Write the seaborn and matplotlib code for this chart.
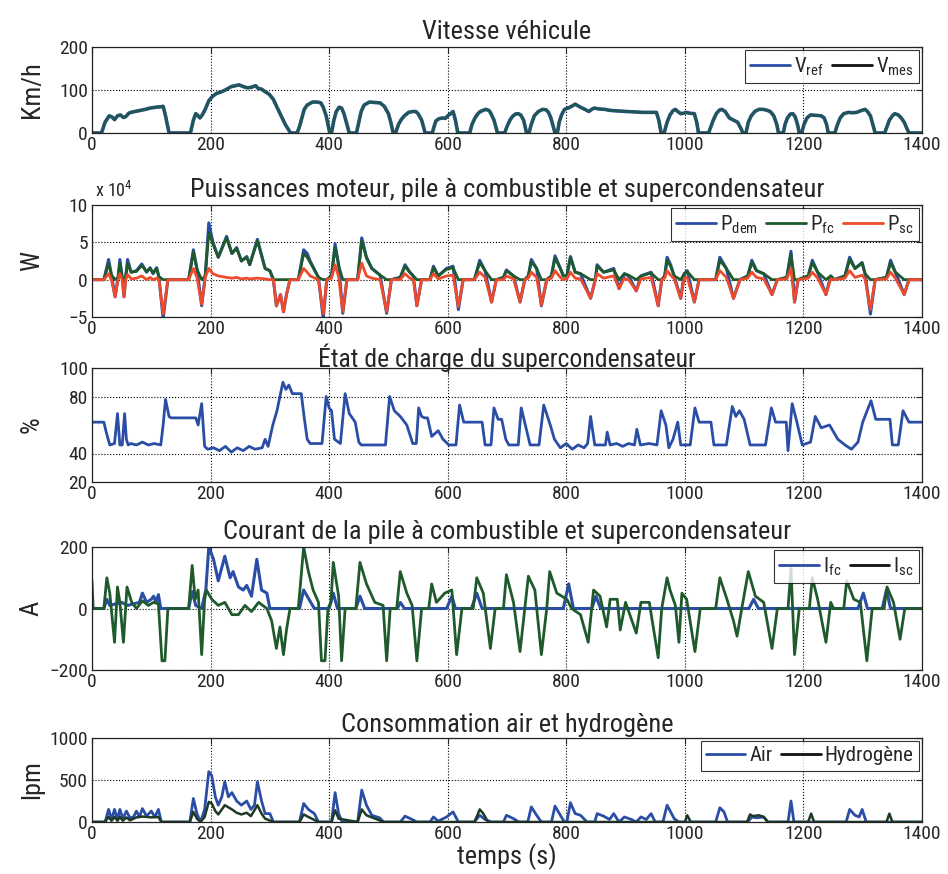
import matplotlib
matplotlib.use("Agg")
import matplotlib.pyplot as plt
from matplotlib import font_manager
from matplotlib.lines import Line2D
import seaborn as sns

# ---- vitesse (km/h) ----
t_speed = ([0, 16, 22, 29, 34, 38, 43, 48, 53, 57, 62, 66]
           + [72, 80, 90, 98, 108, 116, 120, 124, 130]
           + [162, 166, 171, 175, 179, 182, 186, 191]
           + [197, 203, 210, 217, 225, 235, 242, 248, 255, 262]
           + [268, 276, 280, 286, 292, 299, 306, 312, 319, 326, 335]
           + [346, 350, 354, 358, 363, 372, 380, 386, 390, 395, 401]
           + [404, 408, 412, 417, 421, 425, 430, 434]
           + [446, 450, 454, 459, 468, 478, 486, 493, 500, 504, 508]
           + [512, 517, 522, 527, 534, 541, 546, 550, 556, 562]
           + [574, 577, 580, 585, 591, 596, 600, 605, 609, 613, 617]
           + [637, 641, 646, 651, 655, 664, 670, 673, 678, 684]
           + [696, 700, 705, 709, 714, 719, 723, 728, 733]
           + [737, 741, 746, 753, 760, 766, 770, 774, 781]
           + [785, 788, 792, 797, 803, 809, 815, 820, 824, 830]
           + [838, 843, 847, 855, 865, 872, 879, 890, 902, 915, 929, 940, 952, 956, 960]
           + [965, 970, 975, 980, 984, 988, 993, 998, 1002, 1008, 1016, 1020, 1023]
           + [1040, 1044, 1048, 1053, 1058, 1062, 1068, 1075, 1082, 1089, 1094, 1098]
           + [1103, 1107, 1112, 1118, 1125, 1132, 1138, 1144, 1150, 1155, 1158]
           + [1166, 1169, 1173, 1178, 1182, 1186, 1190, 1193]
           + [1197, 1201, 1206, 1212, 1220, 1230, 1235, 1239, 1242]
           + [1253, 1257, 1262, 1268, 1276, 1283, 1290, 1297, 1304, 1308, 1313, 1317, 1321]
           + [1337, 1341, 1345, 1350, 1354, 1360, 1365, 1370, 1374, 1378, 1400])
v_ref = ([0, 0, 25, 40, 37, 31, 40, 42, 36, 38, 46, 48]
         + [50, 52, 55, 58, 60, 61, 62, 40, 0]
         + [0, 0, 30, 45, 40, 35, 42, 55]
         + [75, 85, 92, 95, 100, 108, 110, 112, 108, 105]
         + [106, 110, 104, 102, 96, 90, 78, 60, 40, 20, 0]
         + [0, 15, 35, 55, 65, 72, 72, 70, 60, 40, 0]
         + [0, 30, 50, 60, 58, 45, 20, 0]
         + [0, 25, 50, 65, 72, 71, 70, 62, 45, 25, 0]
         + [0, 20, 32, 40, 48, 50, 50, 45, 30, 0]
         + [0, 15, 28, 33, 35, 34, 40, 45, 50, 30, 0]
         + [0, 20, 35, 45, 50, 55, 52, 45, 30, 0]
         + [0, 15, 30, 38, 44, 45, 42, 30, 0]
         + [0, 20, 40, 50, 55, 54, 48, 35, 0]
         + [0, 25, 42, 55, 58, 62, 67, 63, 60, 56]
         + [50, 55, 58, 56, 55, 53, 52, 51, 50, 49, 48, 48, 48, 30, 0]
         + [0, 25, 42, 52, 55, 50, 45, 46, 48, 46, 45, 25, 0]
         + [0, 15, 30, 45, 53, 55, 50, 35, 30, 25, 12, 0]
         + [0, 25, 40, 50, 55, 55, 53, 50, 40, 20, 0]
         + [0, 20, 35, 44, 45, 38, 20, 0]
         + [0, 20, 35, 42, 41, 40, 35, 20, 0]
         + [0, 18, 35, 45, 48, 47, 48, 52, 55, 50, 40, 20, 0]
         + [0, 15, 30, 40, 45, 42, 35, 25, 12, 0, 0])
v_mes = list(v_ref)  # the measured speed follows the reference

# ---- puissances (x 10^4 W) ----
t_power = ([0, 20, 28, 33, 39, 44, 47, 51, 54, 57, 60, 66]
           + [75, 84, 92, 98, 103, 109, 113, 120, 128, 163]
           + [171, 177, 185, 191, 197, 204, 213, 227, 236, 244, 252]
           + [261, 266, 279, 292, 300, 306, 311, 318, 323, 328, 334, 348]
           + [357, 363, 368, 376, 382, 390, 396, 404, 410, 416, 423, 430, 448]
           + [455, 463, 472, 486, 497, 505, 520, 528, 536, 542, 548, 556, 570]
           + [576, 584, 598, 609, 618, 626, 645, 654, 663, 674, 682, 694]
           + [699, 711, 722, 730, 736, 741, 750, 758, 767, 775, 781, 790, 795]
           + [801, 807, 815, 824, 841, 849, 852, 863, 880, 889, 898, 905]
           + [918, 926, 943, 955, 961, 966, 970, 976, 982, 993, 999, 1004, 1016, 1024]
           + [1052, 1059, 1070, 1082, 1093, 1106, 1113, 1121, 1133, 1147, 1156, 1172, 1179, 1185, 1191]
           + [1208, 1215, 1224, 1238, 1246, 1252, 1270, 1278, 1287, 1299, 1304, 1313, 1321]
           + [1340, 1347, 1355, 1370, 1378, 1400])
p_dem = ([0, 0, 2.7, 0.5, -2.3, 0.3, 2.7, 0.3, -2.3, 0.5, 2.7, 1.0]
         + [1.2, 2.1, 1.0, 1.6, 0.8, 1.6, 0.3, -5.2, 0, 0]
         + [4.0, 1.5, -3.5, 0.5, 7.6, 5.0, 3.0, 5.8, 3.5, 4.3, 2.5]
         + [3.1, 2.0, 5.4, 1.5, 1.2, 0, -3.5, -2.0, -4.3, -2.0, 0, 0]
         + [4.0, 3.5, 2.5, 1.2, 0.3, -5.2, 0, 0.5, 4.8, 2.0, -4.5, 0, 0]
         + [5.6, 3.0, 1.5, 0.6, -4.5, 0, 0.3, 2.0, 1.0, 0.5, -3.5, 0, 0]
         + [1.8, 0.5, 1.5, 1.8, -4.0, 0, 0, 2.6, 1.2, -3.0, 0, 0.3]
         + [1.3, 0.5, -3.0, 0, 0.5, 2.7, 1.5, -3.5, 0, 0.5, 3.2, 1.5, 0.5]
         + [0.5, 3.1, 1.0, 0.8, -2.5, 0, 2.0, 1.0, 1.5, -1.2, 0.8, 0.5]
         + [-1.5, 0.5, 1.0, -3.5, 0, 0.5, 3.0, 2.0, 0.5, -2.5, 0.8, 1.2, -3.0, 0]
         + [0, 3.0, 1.5, -2.5, 0, 0.5, 2.6, 1.2, 0.8, -2.0, 0, 0.3, 3.8, -3.0, 0]
         + [0.5, 2.6, 1.0, -2.0, 0.5, 0, 0.5, 3.0, 1.5, 2.3, 0.8, -4.6, 0]
         + [0.3, 2.6, 1.0, -2.0, 0, 0])
p_fc = ([0, 0, 2.2, 0.6, 0, 0.3, 2.2, 0.3, 0, 0.4, 2.2, 1.0]
        + [1.1, 1.9, 1.1, 1.5, 0.9, 1.5, 0.4, 0, 0, 0]
        + [3.7, 1.4, 0, 0.5, 6.3, 4.8, 3.0, 5.6, 3.5, 4.2, 2.5]
        + [3.0, 2.0, 5.2, 1.5, 1.2, 0, 0, 0, 0, 0, 0, 0]
        + [3.5, 3.0, 2.3, 1.2, 0.3, 0, 0, 0.5, 4.3, 1.9, 0, 0, 0]
        + [5.2, 2.9, 1.5, 0.6, 0, 0, 0.3, 1.8, 1.0, 0.5, 0, 0, 0]
        + [1.6, 0.5, 1.4, 1.6, 0, 0, 0, 2.3, 1.2, 0, 0, 0.3]
        + [1.2, 0.5, 0, 0, 0.5, 2.4, 1.5, 0, 0, 0.5, 2.9, 1.5, 0.5]
        + [0.5, 3.0, 1.0, 0.8, 0, 0, 1.8, 1.0, 1.3, 0, 0.8, 0.6]
        + [0, 0.5, 0.9, 0, 0, 0.5, 2.6, 1.8, 0.5, 0, 0.8, 1.1, 0, 0]
        + [0, 2.6, 1.5, 0, 0, 0.5, 2.3, 1.2, 0.8, 0, 0, 0.3, 3.4, 0, 0]
        + [0.5, 2.3, 1.0, 0, 0.5, 0, 0.5, 2.7, 1.5, 2.2, 0.8, 0, 0]
        + [0.3, 2.3, 1.0, 0, 0, 0])
p_sc = ([0, 0, 0.8, -0.1, -2.3, 0, 0.8, 0, -2.3, 0, 0.7, 0.1]
        + [0.2, 0.5, 0, 0.3, 0, 0.2, 0, -4.6, 0, 0]
        + [1.5, 0.3, -3.3, 0.3, 1.5, 0.8, 0.5, 0.3, 0.2, 0.3, 0.1]
        + [0.2, 0.1, 0.2, 0.1, 0, 0, -3.5, -2.0, -4.3, -2.0, 0, 0]
        + [1.5, 1.0, 0.5, 0.2, 0, -4.6, 0, 0.2, 2.0, 0.4, -4.3, 0, 0]
        + [2.2, 0.5, 0.2, 0, -4.3, 0, 0, 0.8, 0.2, 0, -3.5, 0, 0]
        + [0.8, 0.1, 0.5, 0.6, -3.6, 0, 0, 1.0, 0.3, -3.0, 0, 0]
        + [0.5, 0.1, -3.0, 0, 0.2, 1.0, 0.3, -3.4, 0, 0.2, 1.2, 0.3, 0]
        + [0.1, 1.0, 0.2, 0.1, -2.5, 0, 0.8, 0.2, 0.5, -1.2, 0.2, 0]
        + [-1.5, 0.1, 0.3, -3.5, 0, 0.2, 1.2, 0.6, 0.1, -2.5, 0.2, 0.3, -3.0, 0]
        + [0, 1.2, 0.3, -2.5, 0, 0.2, 1.0, 0.3, 0.1, -2.0, 0, 0.1, 1.5, -3.0, 0]
        + [0.2, 1.0, 0.2, -2.0, 0.1, 0, 0.2, 1.2, 0.3, 0.6, 0.1, -4.0, 0]
        + [0.1, 1.0, 0.2, -2.0, 0, 0])

# ---- etat de charge (%) ----
t_soc = ([0, 20, 24, 30, 38, 43, 47, 51, 55, 58, 61, 65]
         + [75, 85, 95, 105, 116, 120, 124, 130, 133, 175]
         + [179, 185, 190, 195, 205, 215, 225, 235, 245, 255, 265, 275, 287]
         + [292, 297, 305, 312, 318, 322, 327, 332, 338, 353, 358, 363, 368]
         + [388, 395, 400, 404, 409, 419, 427, 434, 444, 450, 454, 495]
         + [502, 510, 520, 531, 541, 547, 551, 556, 561, 566, 573, 584, 592, 602, 614]
         + [620, 627, 658, 663, 673, 678, 685, 691, 698, 703, 719]
         + [724, 732, 739, 754, 762, 773, 780, 790, 800, 810, 820, 830, 836]
         + [841, 848, 866, 869, 874, 885, 895, 905, 915, 919, 925, 940, 953]
         + [960, 968, 973, 980, 988, 993, 1009, 1017, 1024, 1044, 1049, 1070]
         + [1080, 1086, 1092, 1100, 1110, 1136, 1146, 1153, 1171, 1174, 1181, 1189, 1198]
         + [1212, 1220, 1230, 1244, 1258, 1270, 1281, 1292, 1300, 1314, 1322, 1346, 1350]
         + [1360, 1368, 1378, 1400])
soc = ([62, 62, 55, 46, 47, 68, 46, 46, 68, 50, 46, 47]
       + [46, 48, 46, 47, 46, 60, 78, 66, 65, 65]
       + [60, 75, 45, 43, 44, 42, 45, 41, 44, 42, 45, 43, 44]
       + [50, 45, 60, 70, 82, 90, 85, 88, 82, 82, 65, 50, 47]
       + [47, 80, 72, 70, 50, 47, 82, 68, 62, 48, 46, 46]
       + [80, 70, 66, 60, 47, 47, 72, 66, 65, 65, 52, 56, 50, 46, 46]
       + [74, 62, 62, 46, 46, 72, 64, 64, 50, 46, 46]
       + [72, 58, 46, 46, 74, 60, 50, 44, 47, 43, 46, 44, 47]
       + [66, 46, 46, 55, 46, 47, 45, 47, 46, 57, 46, 47, 46]
       + [70, 60, 44, 50, 62, 46, 46, 72, 62, 62, 46, 46]
       + [73, 66, 70, 64, 46, 46, 72, 62, 62, 42, 75, 62, 46]
       + [48, 66, 58, 60, 50, 46, 43, 48, 62, 77, 64, 64, 46]
       + [46, 70, 62, 62])

# ---- courants (A) ----
t_isc = ([0, 2, 5, 20, 25, 30, 38, 43, 47, 53, 59, 67]
         + [75, 85, 95, 104, 112, 118, 123, 128, 163]
         + [169, 174, 179, 185, 190, 193, 202, 213, 224, 236, 247, 258]
         + [269, 281, 295, 303, 311, 317, 323, 328, 334, 348]
         + [357, 365, 373, 382, 387, 393, 398, 403, 407, 416, 421, 427]
         + [445, 452, 463, 477, 491, 497, 503, 514, 520, 531, 540, 548, 556]
         + [568, 573, 581, 595, 607, 615, 624, 643, 649, 660, 672, 680]
         + [694, 699, 711, 722, 730, 736, 747, 758, 767, 772, 784, 801, 809]
         + [824, 837, 846, 857, 868, 874, 886, 891, 900, 918, 926, 940, 955, 961]
         + [970, 975, 984, 990, 995, 1003, 1017, 1026, 1052, 1059, 1071, 1082, 1088, 1096]
         + [1107, 1119, 1133, 1147, 1156, 1174, 1179, 1185, 1193, 1210, 1215, 1224, 1238, 1246, 1251]
         + [1268, 1273, 1285, 1296, 1307, 1316, 1336, 1341, 1352, 1363, 1371, 1400])
i_sc = ([90, 0, 0, 0, 100, 50, -110, 70, 20, -110, 70, 20]
        + [0, 25, 10, 20, 15, -170, -170, 0, 0]
        + [140, 30, 60, -150, 30, 60, 30, 10, 20, -20, -20, 10]
        + [-10, 20, 0, -40, -130, -60, -150, -70, 0, 0]
        + [200, 120, 60, 20, -170, -170, 0, 20, 150, 40, -170, 0]
        + [0, 150, 80, 20, 10, -170, 0, 0, 120, 50, 10, -170, 0]
        + [0, 80, 20, 50, 60, -150, 0, 0, 100, 50, -130, 0]
        + [0, 110, 20, -140, 0, 105, 60, -150, 0, 120, 50, 30, 0]
        + [-20, -110, 60, 40, -60, 30, 30, -70, 20, -80, 20, 20, -160, 0]
        + [100, 60, 10, -110, 50, 30, -140, 0, 0, 100, 30, -40, -90, 0]
        + [120, 40, 20, -130, 0, 0, 130, -150, 0, 0, 100, 30, -110, 20, 0]
        + [0, 90, 30, 20, -170, 0, 0, 70, 20, -100, 0, 0])
t_ifc = ([0, 20, 25, 30, 40, 50, 60, 70, 80, 85, 92, 100, 104, 108, 112, 116, 163]
         + [169, 175, 185, 192, 197, 205, 213, 224, 233, 238, 247, 255, 261, 269, 278, 286, 295, 300]
         + [350, 357, 366, 375, 400, 407, 414, 445, 452, 460, 515, 520, 527]
         + [598, 607, 613, 640, 649, 658, 795, 804, 812, 843, 850, 858,
            1108, 1116, 1124, 1292, 1301, 1308, 1333, 1340, 1347, 1400])
i_fc = ([0, 0, 30, 10, 15, 20, 10, 15, 20, 50, 20, 30, 40, 20, 45, 0, 0]
        + [55, 10, 0, 60, 200, 160, 90, 170, 100, 120, 70, 60, 75, 40, 160, 60, 50, 0]
        + [0, 60, 30, 0, 0, 50, 0, 0, 40, 0, 0, 20, 0]
        + [0, 40, 0, 0, 50, 0, 0, 80, 0, 0, 40, 0,
           0, 30, 0, 0, 50, 0, 0, 60, 0, 0])

# ---- consommation (lpm) ----
t_air = ([0, 22, 28, 33, 38, 43, 47, 52, 58, 64, 70, 75, 80, 85, 92, 100, 106, 112, 117]
         + [165, 171, 177, 183, 190, 197, 202, 208, 213, 219, 224, 230, 236, 244, 252, 261, 268, 274, 279, 286, 292, 300, 306]
         + [350, 357, 365, 375, 382, 404, 410, 416, 422, 448, 455, 463, 472, 485, 492]
         + [520, 528, 540, 548, 570, 576, 584, 598, 609, 618, 645, 654, 663, 674, 694, 699, 711, 720]
         + [735, 741, 750, 758, 775, 781, 790, 797, 801, 807, 815, 824, 835, 848, 852, 863, 873, 880, 889, 898, 910, 918, 926, 935, 943, 950]
         + [963, 970, 976, 982, 990, 1052, 1059, 1066, 1072, 1106, 1113, 1121, 1133, 1140, 1174, 1179, 1184, 1272, 1278, 1287, 1294, 1299, 1306, 1400])
air = ([0, 0, 150, 30, 150, 30, 150, 40, 130, 50, 60, 130, 60, 160, 70, 130, 60, 150, 0]
       + [0, 280, 100, 0, 150, 600, 550, 300, 200, 300, 480, 300, 350, 250, 200, 250, 150, 200, 480, 250, 100, 100, 0]
       + [0, 220, 150, 100, 0, 0, 350, 100, 0, 0, 380, 200, 80, 50, 0]
       + [0, 70, 30, 0, 0, 60, 10, 60, 120, 0, 0, 80, 30, 0, 0, 80, 40, 0]
       + [0, 180, 80, 0, 0, 190, 80, 0, 0, 230, 100, 80, 0, 0, 100, 70, 30, 100, 0, 60, 30, 0, 60, 30, 100, 0]
       + [0, 200, 120, 40, 0, 0, 170, 120, 0, 0, 60, 50, 60, 0, 0, 250, 0, 0, 150, 80, 60, 150, 0, 0])
t_h2 = ([0, 22, 28, 33, 38, 43, 47, 52, 58, 64, 75, 85, 100, 112, 117]
        + [165, 171, 177, 183, 190, 197, 202, 208, 213, 224, 236, 244, 252, 261, 268, 279, 286, 292, 306]
        + [350, 357, 365, 382, 404, 410, 416, 448, 455, 463, 492]
        + [645, 650, 654, 660, 668, 1000, 1004, 1010, 1105, 1110, 1115, 1125, 1133, 1140,
           1208, 1213, 1218, 1340, 1345, 1350, 1400])
h2 = ([0, 0, 60, 15, 60, 15, 60, 15, 55, 20, 55, 65, 55, 60, 0]
      + [0, 120, 40, 0, 60, 240, 220, 130, 90, 200, 150, 110, 90, 110, 70, 200, 100, 40, 0]
      + [0, 90, 60, 0, 0, 140, 40, 0, 150, 80, 0]
      + [0, 80, 150, 100, 0, 0, 80, 0, 0, 90, 70, 80, 60, 0,
         0, 100, 0, 0, 100, 0, 0])

BLUE = "#2a4ea6"
GREEN = "#1f5a2c"
RED = "#ee4a2c"
BLACK = "#111111"

# pick a narrow sans if one is installed, otherwise Liberation Sans
installed = {f.name for f in font_manager.fontManager.ttflist}
family = "Liberation Sans"
narrow = False
for cand in ["Liberation Sans Narrow", "Roboto Condensed", "Open Sans Condensed",
             "DejaVu Sans Condensed"]:
    if cand in installed:
        family, narrow = cand, True
        break

sns.set_style("white")
plt.rcParams["font.family"] = [family, "DejaVu Sans"]
plt.rcParams["mathtext.fontset"] = "custom"
plt.rcParams["mathtext.rm"] = family
plt.rcParams["mathtext.it"] = family

fs_title = 19 if narrow else 16.5
fs_tick = 14 if narrow else 12.5
fs_ylab = 19 if narrow else 17.5
fs_leg = 15 if narrow else 14

fig = plt.figure(figsize=(9.48, 8.74), dpi=100)

W, H = 948.0, 874.0
left, width = 92 / W, 830 / W
boxes = [(47, 133), (205, 317), (368, 482), (547, 670), (738, 822)]
axes = [fig.add_axes([left, 1 - b / H, width, (b - t) / H]) for t, b in boxes]


def style(ax, title, ylabel, yticks, ylim, pad=6, tsize=None):
    ax.set_xlim(0, 1400)
    ax.set_xticks(range(0, 1401, 200))
    ax.set_ylim(*ylim)
    ax.set_yticks(yticks)
    ax.tick_params(direction="in", labelsize=fs_tick, length=4, pad=3, top=True, right=True)
    ax.tick_params(axis="x", pad=2)
    ax.grid(True, color="black", linestyle=":", linewidth=0.8)
    ax.set_axisbelow(True)
    for s in ax.spines.values():
        s.set_color("#222222")
        s.set_linewidth(0.9)
    ax.set_title(title, fontsize=tsize or fs_title, pad=pad)
    ax.set_ylabel(ylabel, fontsize=fs_ylab)
    ax.yaxis.set_label_coords(-0.058, 0.5)
    ax.set_xlabel("")


def legend(ax, handles, labels, ncol):
    leg = ax.legend(handles, labels, loc="upper right", ncol=ncol, fontsize=fs_leg,
                    frameon=True, fancybox=False, borderaxespad=0.15,
                    handlelength=1.9, handletextpad=0.2, columnspacing=0.4,
                    borderpad=0.25, labelspacing=0.1)
    leg.get_frame().set_edgecolor("black")
    leg.get_frame().set_linewidth(0.8)


# 1 - vitesse
ax = axes[0]
sns.lineplot(x=t_speed, y=v_ref, ax=ax, color=BLUE, lw=2.6, estimator=None)
sns.lineplot(x=t_speed, y=v_mes, ax=ax, color="#1f5a40", lw=1.9, alpha=0.85, estimator=None)
style(ax, "Vitesse véhicule", "Km/h", [0, 100, 200], (0, 200))
legend(ax, [Line2D([], [], color=BLUE, lw=2), Line2D([], [], color=BLACK, lw=2)],
       [r"V$_{\mathregular{ref}}$", r"V$_{\mathregular{mes}}$"], 2)

# 2 - puissances
ax = axes[1]
sns.lineplot(x=t_power, y=p_dem, ax=ax, color=BLUE, lw=2.2, estimator=None)
sns.lineplot(x=t_power, y=p_fc, ax=ax, color=GREEN, lw=2.0, estimator=None)
sns.lineplot(x=t_power, y=p_sc, ax=ax, color=RED, lw=2.0, estimator=None)
style(ax, "Puissances moteur, pile à combustible et supercondensateur", "W",
      [-5, 0, 5, 10], (-5, 10))
legend(ax, [Line2D([], [], color=BLUE, lw=2), Line2D([], [], color=GREEN, lw=2),
            Line2D([], [], color=RED, lw=2)],
       [r"P$_{\mathregular{dem}}$", r"P$_{\mathregular{fc}}$", r"P$_{\mathregular{sc}}$"], 3)
fig.text(95 / W, 1 - 191 / H, r"x 10$^{\mathregular{4}}$", fontsize=fs_tick - 1, va="center")

# 3 - etat de charge
ax = axes[2]
sns.lineplot(x=t_soc, y=soc, ax=ax, color=BLUE, lw=2.0, estimator=None)
style(ax, "État de charge du supercondensateur", "%", [20, 40, 80, 100], (20, 100),
      pad=1, tsize=fs_title - 0.5)

# 4 - courants
ax = axes[3]
sns.lineplot(x=t_ifc, y=i_fc, ax=ax, color=BLUE, lw=2.2, estimator=None)
sns.lineplot(x=t_isc, y=i_sc, ax=ax, color=GREEN, lw=2.0, estimator=None)
style(ax, "Courant de la pile à combustible et supercondensateur", "A",
      [-200, 0, 200], (-200, 200))
legend(ax, [Line2D([], [], color=BLUE, lw=2), Line2D([], [], color=BLACK, lw=2)],
       [r"I$_{\mathregular{fc}}$", r"I$_{\mathregular{sc}}$"], 2)

# 5 - consommation
ax = axes[4]
sns.lineplot(x=t_air, y=air, ax=ax, color=BLUE, lw=2.0, estimator=None)
sns.lineplot(x=t_h2, y=h2, ax=ax, color="#1d3a24", lw=1.8, estimator=None)
style(ax, "Consommation air et hydrogène", "lpm", [0, 500, 1000], (0, 1000), pad=4)
legend(ax, [Line2D([], [], color=BLUE, lw=2), Line2D([], [], color=BLACK, lw=2)],
       ["Air", "Hydrogène"], 2)
ax.set_xlabel("temps (s)", fontsize=fs_ylab, labelpad=0)

fig.savefig("out.png", dpi=100)
